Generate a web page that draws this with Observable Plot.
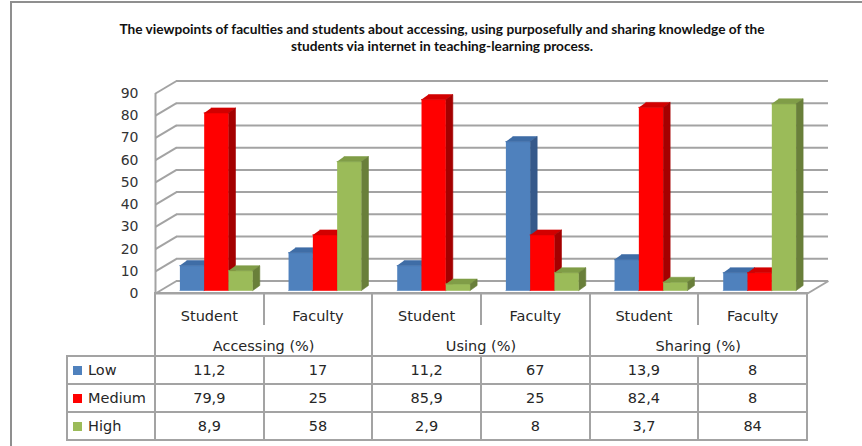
<!DOCTYPE html>
<html>
<head>
<meta charset="utf-8">
<script src="https://cdn.jsdelivr.net/npm/d3@7"></script>
<script src="https://cdn.jsdelivr.net/npm/@observablehq/plot@0.6"></script>
<style>
  html, body { margin: 0; padding: 0; background: #fff; }
  body { width: 862px; height: 446px; overflow: hidden; position: relative; font-family: "DejaVu Sans", sans-serif; color: #262626; }
  #frame { position: absolute; left: 10px; top: 1px; width: 900px; height: 500px; border-left: 2px solid #8f8f8f; border-top: 2px solid #8f8f8f; }
  #title { position: absolute; left: 0; top: 20px; width: 884px; text-align: center; font: bold 13.7px Lato, sans-serif; line-height: 17px; color: #111; }
  #chart { position: absolute; left: 0; top: 60px; }
  #tbl { position: absolute; left: 66px; top: 292px; border-collapse: collapse; table-layout: fixed; font-size: 14.5px; }
  #tbl td { padding: 0; text-align: center; border-color: #a3a3a3; border-style: solid; border-width: 0; white-space: nowrap; overflow: visible; }
  #tbl tr.cat td.c { height: 30px; vertical-align: bottom; border-top-width: 2px; border-left-width: 2px; border-right-width: 2px; line-height: 16px; padding-bottom: 1px; }
  #tbl tr.asp td.c { height: 29px; vertical-align: bottom; border-left-width: 2px; border-right-width: 2px; border-bottom-width: 2px; line-height: 16px; padding-bottom: 1px; }
  #tbl tr.dat td { height: 26px; border-width: 2px; line-height: 16px; }
  #tbl td.leg { text-align: left; padding-left: 5px; }
  .sw { display: inline-block; width: 9px; height: 9px; margin-right: 6px; vertical-align: 0px; }
</style>
</head>
<body>
<div id="frame"></div>
<div id="title">The viewpoints of faculties and students about accessing, using purposefully and sharing knowledge of the<br>students via internet in teaching-learning process.</div>
<div id="chart"></div>
<table id="tbl"></table>
<script>
// ---------- data ----------
const categories = ["Student", "Faculty", "Student", "Faculty", "Student", "Faculty"];
const aspects = ["Accessing (%)", "Using (%)", "Sharing (%)"];
const seriesNames = ["Low", "Medium", "High"];
const low    = [11.2, 17, 11.2, 67, 13.9, 8];
const medium = [79.9, 25, 85.9, 25, 82.4, 8];
const high   = [8.9, 58, 2.9, 8, 3.7, 84];
const yTicks = [0, 10, 20, 30, 40, 50, 60, 70, 80, 90];

// ---------- styles ----------
const series = [low, medium, high];
const frontColors = ["#4F81BD", "#FF0000", "#9BBB59"];
const topColors   = ["#3F6DA6", "#D20000", "#809D47"];
const sideColors  = ["#36598A", "#A40000", "#697F3A"];

const W = 862, H = 240, mL = 155, mR = 55, mT = 33, mB = 7;
const nCols = categories.length;
const kx = (W - mL - mR) / nCols;      // px per x unit
const ky = (H - mT - mB) / 90;         // px per y unit
const WALL_PX_X = 21, WALL_PX_Y = 12.5; // back wall depth (px)
const BAR_PX_X = 7, BAR_PX_Y = 5;       // bar depth (px)
const BAR_W = 24.3 / kx;
const GAP = (1 - 3 * BAR_W) / 2;
const wx = WALL_PX_X / kx, wy = WALL_PX_Y / ky;
const bx = BAR_PX_X / kx, by = BAR_PX_Y / ky;

// bar faces (painter's order: left to right, front/top/side)
const faces = [];
let pid = 0;
for (let i = 0; i < nCols; i++) {
  for (let k = 0; k < series.length; k++) {
    const v = series[k][i];
    const x1 = i + GAP + k * BAR_W, x2 = x1 + BAR_W;
    const polys = [
      [frontColors[k], [[x1, 0], [x2, 0], [x2, v], [x1, v]]],
      [topColors[k],   [[x1, v], [x2, v], [x2 + bx, v + by], [x1 + bx, v + by]]],
      [sideColors[k],  [[x2, 0], [x2 + bx, by], [x2 + bx, v + by], [x2, v]]]
    ];
    for (const [c, pts] of polys) {
      pid++;
      for (const [x, y] of pts) faces.push({id: pid, x, y, c});
    }
  }
}

const gridColor = "#a3a3a3";
const chart = Plot.plot({
  width: W, height: H,
  marginLeft: mL, marginRight: mR, marginTop: mT, marginBottom: mB,
  style: {fontFamily: "DejaVu Sans, sans-serif", fontSize: "14px", color: "#333", background: "transparent", overflow: "visible"},
  x: {domain: [0, nCols], axis: null},
  y: {domain: [0, 90], ticks: 9, tickSize: 0, tickPadding: 17, label: null},
  color: {type: "identity"},
  marks: [
    Plot.ruleY(yTicks, {x1: 0, x2: nCols, dx: WALL_PX_X, dy: -WALL_PX_Y, stroke: gridColor, strokeWidth: 2}),
    Plot.link(yTicks, {x1: 0, y1: d => d, x2: wx, y2: d => d + wy, stroke: gridColor, strokeWidth: 2}),
    Plot.link([0], {x1: nCols, y1: 0, x2: nCols + wx, y2: wy, stroke: gridColor, strokeWidth: 2}),
    Plot.ruleX([0], {y1: 0, y2: 90, stroke: gridColor, strokeWidth: 2}),
    Plot.ruleY([0], {x1: 0, x2: nCols, stroke: gridColor, strokeWidth: 2}),
    Plot.line(faces, {x: "x", y: "y", z: "id", fill: "c", stroke: "c", strokeWidth: 0.6, dx: 6.5, dy: -3})
  ]
});
document.getElementById("chart").appendChild(chart);

// ---------- data table ----------
const fmt = v => String(v).replace(".", ",");
const tbl = d3.select("#tbl");
const cg = tbl.append("colgroup");
cg.append("col").style("width", "88px");
for (let i = 0; i < nCols; i++) cg.append("col").style("width", kx + "px");
const r1 = tbl.append("tr").attr("class", "cat");
r1.append("td");
categories.forEach(c => r1.append("td").attr("class", "c").text(c));
const r2 = tbl.append("tr").attr("class", "asp");
r2.append("td");
aspects.forEach(a => r2.append("td").attr("class", "c").attr("colspan", 2).text(a));
seriesNames.forEach((name, k) => {
  const r = tbl.append("tr").attr("class", "dat");
  const lg = r.append("td").attr("class", "leg");
  lg.append("span").attr("class", "sw").style("background", frontColors[k]);
  lg.append("span").text(name);
  series[k].forEach(v => r.append("td").text(fmt(v)));
});
</script>
</body>
</html>
